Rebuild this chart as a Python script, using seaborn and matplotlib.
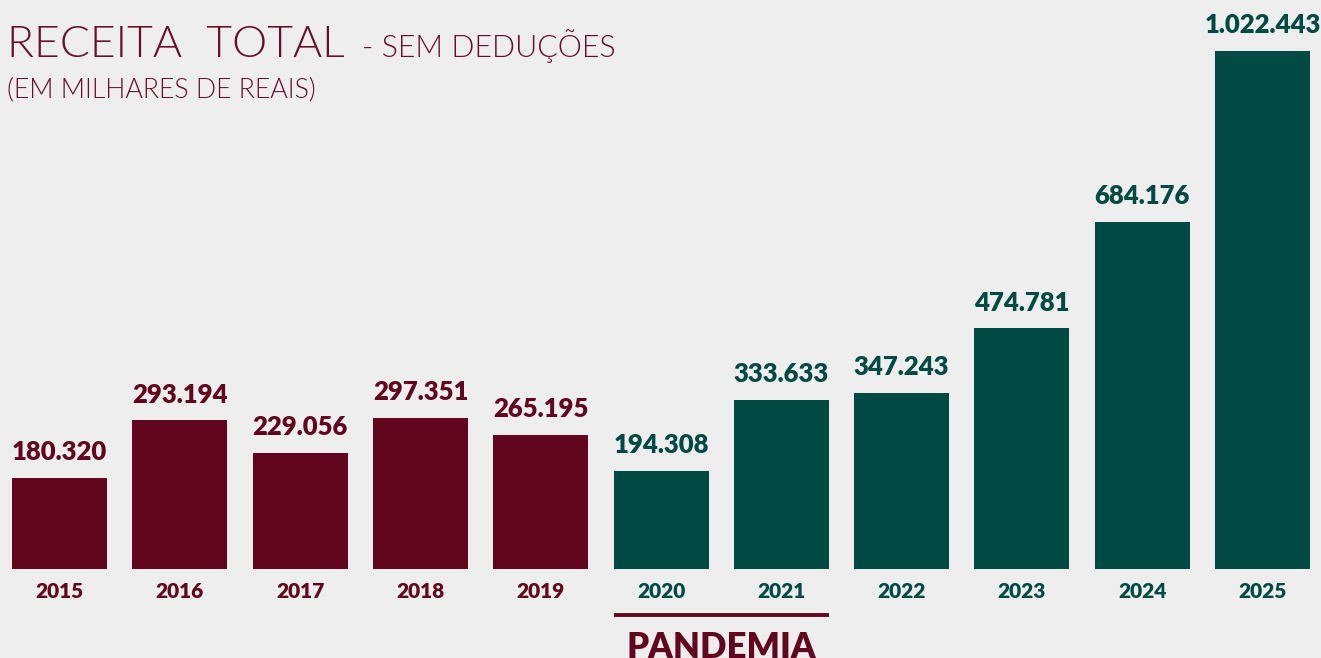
import matplotlib.pyplot as plt
import seaborn as sns
import pandas as pd
from matplotlib.transforms import blended_transform_factory

# data (em milhares de reais)
YEARS = ["2015", "2016", "2017", "2018", "2019", "2020",
         "2021", "2022", "2023", "2024", "2025"]
VALUES = [180320, 293194, 229056, 297351, 265195, 194308,
          333633, 347243, 474781, 684176, 1022443]
PERIOD = ["antes"] * 5 + ["depois"] * 6

MAROON = "#62061f"
GREEN = "#004a44"
TITLE_C = "#6a0f2a"
BG = "#eeeeee"
COLORS = {"antes": MAROON, "depois": GREEN}

df = pd.DataFrame({"ano": YEARS, "receita": VALUES, "periodo": PERIOD})

sns.set_theme(style="white")
plt.rcParams["font.family"] = ["Lato", "DejaVu Sans"]

fig = plt.figure(figsize=(13.21, 6.58), dpi=100, facecolor=BG)
ax = fig.add_axes([0, 89 / 658, 1, 569 / 658])
ax.set_facecolor(BG)

sns.barplot(data=df, x="ano", y="receita", hue="periodo", palette=COLORS,
            dodge=False, width=0.79, legend=False, saturation=1,
            linewidth=0, ax=ax)

ax.set_xlim(-0.495, 10.486)
ax.set_ylim(0, VALUES[-1] * 569 / 518)
for s in ax.spines.values():
    s.set_visible(False)
ax.set_yticks([])
ax.set_xticks([])
ax.set_xlabel("")
ax.set_ylabel("")

# value and year labels
for i, (y, v, p) in enumerate(zip(YEARS, VALUES, PERIOD)):
    c = COLORS[p]
    ax.annotate(f"{v:,}".replace(",", "."), (i, v), xytext=(0, 10),
                textcoords="offset points", ha="center", va="bottom",
                fontsize=18.5, fontweight="heavy", color=c)
    ax.annotate(y, (i, 0), xytext=(0, -16.5), textcoords="offset points",
                ha="center", va="center", fontsize=15, fontweight="heavy",
                color=c)

# pandemia marker (text is cut by the bottom edge, as in the original)
tr = blended_transform_factory(ax.transData, fig.transFigure)
ax.plot([5 - 0.395, 6 + 0.395], [1 - 615 / 658] * 2, transform=tr,
        color=MAROON, lw=2.8, clip_on=False, solid_capstyle="butt")
ax.text(5.5, 1 - 647 / 658, "PANDEMIA", transform=tr, ha="center",
        va="center", fontsize=25, fontweight="heavy", color=MAROON)

# title
fig.text(7 / 1321, 1 - 57 / 658, "RECEITA  TOTAL", fontsize=32,
         fontweight=300, color=TITLE_C, va="baseline")
fig.text(362 / 1321, 1 - 57 / 658, "- SEM DEDUÇÕES", fontsize=22,
         fontweight=300, color=TITLE_C, va="baseline")
fig.text(7 / 1321, 1 - 97 / 658, "(EM MILHARES DE REAIS)", fontsize=19.3,
         fontweight=300, color=TITLE_C, va="baseline")

fig.savefig("out.png", dpi=100, facecolor=BG)
